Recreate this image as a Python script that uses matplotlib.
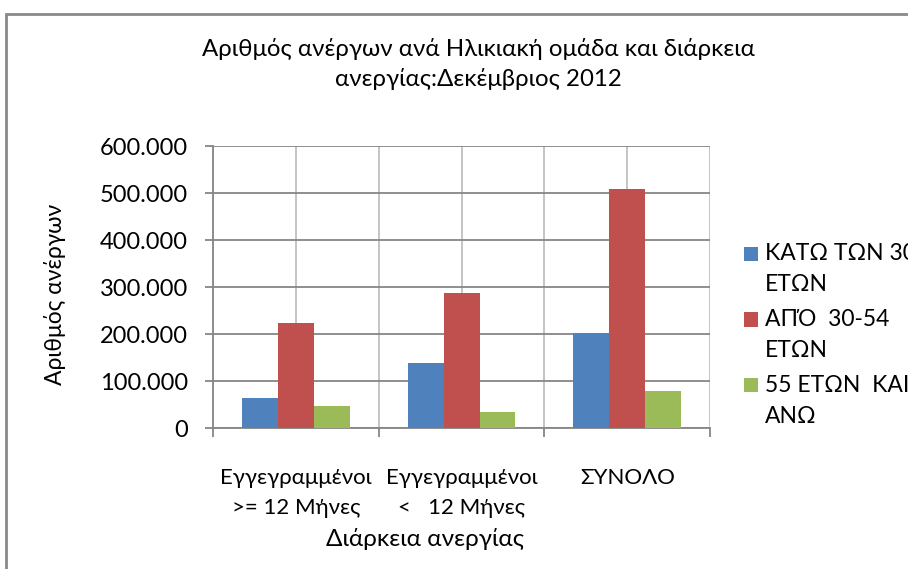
import numpy as np
import matplotlib.pyplot as plt
from matplotlib.patches import Rectangle
from matplotlib.ticker import FuncFormatter, FixedLocator

plt.rcParams['font.family'] = ['Lato', 'DejaVu Sans']

# dedomena
kathgories = ['Εγγεγραμμένοι\n>= 12 Μήνες', 'Εγγεγραμμένοι\n<   12 Μήνες', 'ΣΥΝΟΛΟ']
seires = ['ΚΑΤΩ ΤΩΝ 30\nΕΤΩΝ', 'ΑΠΌ  30-54\nΕΤΩΝ', '55 ΕΤΩΝ  ΚΑΙ\nΑΝΩ']
kato_30 = [63000, 139000, 203000]
apo_30_54 = [224000, 287000, 508000]
ano_55 = [46000, 33000, 79000]
xromata = ['#4f81bd', '#c0504d', '#9bbb59']

fig = plt.figure(figsize=(9.08, 5.69), dpi=100)
ax = fig.add_axes([0.2346, 0.2478, 0.5474, 0.4956])

x = np.arange(len(kathgories))
w = 0.217
for i, (vals, lab) in enumerate(zip([kato_30, apo_30_54, ano_55], seires)):
    ax.bar(x + (i - 1) * w, vals, w, color=xromata[i], label=lab, zorder=3)

ax.set_xlim(-0.5, 2.5)
ax.set_ylim(0, 600000)
ax.set_yticks(np.arange(0, 600001, 100000))
ax.yaxis.set_major_formatter(FuncFormatter(lambda v, p: '0' if v == 0 else f'{int(v):,}'.replace(',', '.')))
ax.set_xticks(x)
ax.set_xticklabels(kathgories, fontsize=16, linespacing=1.63)
ax.xaxis.set_minor_locator(FixedLocator([-0.5, 0.5, 1.5, 2.5]))
ax.tick_params(axis='x', which='major', length=0, pad=28.5)
ax.tick_params(axis='x', which='minor', length=6.5, color='#868686', width=1.3)
ax.tick_params(axis='y', length=6, color='#868686', width=1.3, labelsize=17, pad=12)

ax.grid(axis='y', color='#868686', linewidth=1.3, zorder=0)
ax.grid(axis='x', which='both', color='#b4b4b4', linewidth=1.1, zorder=0)
for s in ['top', 'right']:
    ax.spines[s].set_visible(False)
ax.spines['left'].set_color('#868686')
ax.spines['bottom'].set_color('#868686')
ax.spines['left'].set_linewidth(1.3)
ax.spines['bottom'].set_linewidth(1.3)

fig.text(55 / 908, 1 - 294 / 569, 'Αριθμός ανέργων', fontsize=16.5, rotation=90, ha='center', va='center')
fig.text(425 / 908, 1 - 539 / 569, 'Διάρκεια ανεργίας', fontsize=17.5, ha='center', va='center')
fig.text(478 / 908, 1 - 64 / 569, 'Αριθμός ανέργων ανά Ηλικιακή ομάδα και διάρκεια\nανεργίας:Δεκέμβριος 2012',
         fontsize=17.3, ha='center', va='center', linespacing=1.5)

leg = fig.legend(loc='upper left', bbox_to_anchor=(733 / 908, 1 - 232 / 569), frameon=False,
                 fontsize=16.5, handlelength=0.6, handleheight=0.6, handletextpad=0.3,
                 labelspacing=0.6, borderpad=0)
for t in leg.get_texts():
    t.set_linespacing(1.58)
# to tetragwnaki sthn prwth grammh
for p in leg.legend_handles:
    p.set_y(p.get_y() + 11.5)

# perigramma
fig.patches.append(Rectangle((6 / 908, -0.1), 1.2, 1 - 14 / 569 + 0.1, transform=fig.transFigure,
                             fill=False, edgecolor='#8a8a8a', linewidth=2))

fig.savefig('out.png', dpi=100)
